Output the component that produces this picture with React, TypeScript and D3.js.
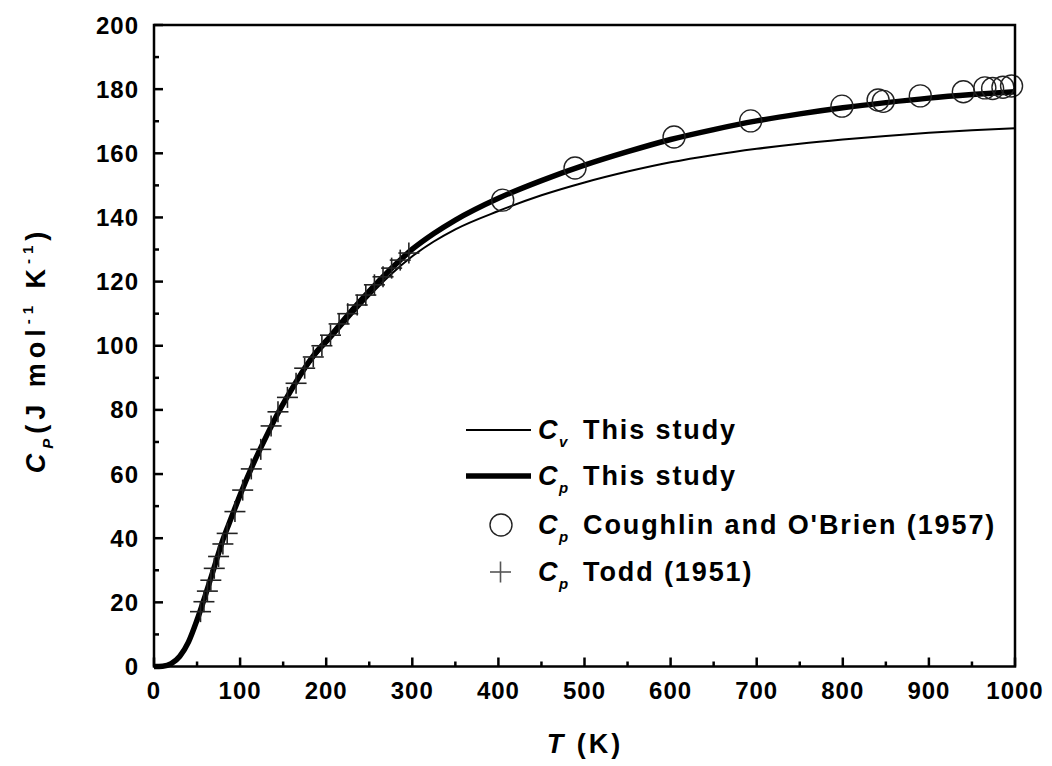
import React from "react";
import * as d3 from "d3";

const curveT = [0, 10, 20, 30, 40, 50, 60, 70, 80, 90, 100, 115, 130, 145, 160, 175, 190, 200, 225, 250, 275, 300, 325, 350, 400, 450, 500, 550, 600, 650, 700, 750, 800, 850, 900, 950, 1000];
const cpThis = [0, 0.1, 0.9, 3.2, 7.6, 14.5, 22.5, 31, 39.5, 46.5, 53.5, 63, 71.5, 79.5, 86.5, 93, 98.5, 101.5, 109.5, 117, 123.9, 130.1, 135, 139.2, 146, 151.5, 156.3, 160.5, 164.3, 167.4, 170.1, 172.3, 174.2, 175.8, 177.2, 178.3, 179.2];
const cvThis = [0, 0.1, 0.9, 3.2, 7.6, 14.5, 22.5, 31, 39.5, 46.5, 53.4, 62.8, 71.2, 79.1, 86, 92.3, 97.6, 100.5, 108.1, 115.5, 122.2, 127.9, 132.5, 136.3, 142, 146.9, 150.9, 154.3, 157.2, 159.5, 161.4, 163, 164.3, 165.4, 166.4, 167.2, 167.8];

const coughlinT = [405, 489, 604, 693, 799, 841, 847, 890, 940, 965, 974, 986, 996];
const coughlinCp = [145.4, 155.4, 165.1, 170.1, 174.7, 176.6, 176.2, 177.9, 179.2, 180.4, 180.2, 180.6, 181.0];

const toddT = [54, 58, 62, 66, 70, 75, 80, 85, 94, 103, 113, 124, 136, 144, 155, 165, 175, 185, 195, 205, 215, 225, 236, 246, 256, 266, 276, 286, 296];
const toddCp = [17.1, 20.2, 23.5, 26.9, 30.6, 34.3, 38.2, 41.5, 48.3, 55.0, 61.6, 67.7, 75.0, 79.4, 83.9, 88.3, 93.0, 96.5, 100.0, 103.3, 106.8, 110.0, 112.7, 115.8, 119.0, 121.5, 124.2, 126.7, 128.9];

const xTicks = [0, 100, 200, 300, 400, 500, 600, 700, 800, 900, 1000];
const yTicks = [0, 20, 40, 60, 80, 100, 120, 140, 160, 180, 200];

const legendSubs = ["v", "p", "p", "p"];
const legendTexts = ["This study", "This study", "Coughlin and O'Brien (1957)", "Todd (1951)"];

const FONT = "'Liberation Sans', Arial, sans-serif";

export default function App() {
  const W = 1052, H = 766;
  const x = d3.scaleLinear().domain([0, 1000]).range([154, 1015]);
  const y = d3.scaleLinear().domain([0, 200]).range([666.5, 25]);

  const line = d3.line<number>()
    .x((_, i) => x(curveT[i]))
    .y((d) => y(d))
    .curve(d3.curveMonotoneX);

  const xMinor = d3.range(50, 1000, 100);
  const yMinor = d3.range(10, 200, 20);
  const tickFont = { fontFamily: FONT, fontWeight: 700, fontSize: 24, letterSpacing: 1 } as const;
  const legFont = { fontFamily: FONT, fontWeight: 700, fontSize: 27, letterSpacing: 1.9 } as const;
  const rowY = [430, 476, 525, 572];

  return (
    <svg width={W} height={H} style={{ position: "absolute", left: 0, top: 0, background: "#fff" }}>
      <rect x={0} y={0} width={W} height={H} fill="#fff" />
      <path d={line(cvThis) || ""} fill="none" stroke="#000" strokeWidth={2} />
      <path d={line(cpThis) || ""} fill="none" stroke="#000" strokeWidth={5.5} />
      {toddT.map((t, i) => (
        <g key={"t" + i} stroke="#222" strokeWidth={1.6}>
          <line x1={x(t) - 10.5} x2={x(t) + 10.5} y1={y(toddCp[i])} y2={y(toddCp[i])} />
          <line x1={x(t)} x2={x(t)} y1={y(toddCp[i]) - 10.5} y2={y(toddCp[i]) + 10.5} />
        </g>
      ))}
      {coughlinT.map((t, i) => (
        <circle key={"c" + i} cx={x(t)} cy={y(coughlinCp[i])} r={11} fill="none" stroke="#222" strokeWidth={1.4} />
      ))}
      <rect x={x(0)} y={y(200)} width={x(1000) - x(0)} height={y(0) - y(200)} fill="none" stroke="#000" strokeWidth={2.5} />
      {xTicks.map((t) => (
        <line key={"xt" + t} x1={x(t)} x2={x(t)} y1={y(0)} y2={y(0) - 9} stroke="#000" strokeWidth={2.5} />
      ))}
      {xMinor.map((t) => (
        <line key={"xm" + t} x1={x(t)} x2={x(t)} y1={y(0)} y2={y(0) - 5} stroke="#000" strokeWidth={2.5} />
      ))}
      {yTicks.map((t) => (
        <line key={"yt" + t} x1={x(0)} x2={x(0) + 9} y1={y(t)} y2={y(t)} stroke="#000" strokeWidth={2.5} />
      ))}
      {yMinor.map((t) => (
        <line key={"ym" + t} x1={x(0)} x2={x(0) + 5} y1={y(t)} y2={y(t)} stroke="#000" strokeWidth={2.5} />
      ))}
      {xTicks.map((t) => (
        <text key={"xl" + t} x={x(t)} y={699} textAnchor="middle" style={tickFont}>{t}</text>
      ))}
      {yTicks.map((t) => (
        <text key={"yl" + t} x={139} y={y(t) + 8.5} textAnchor="end" style={tickFont}>{t}</text>
      ))}
      <text x={585} y={753} textAnchor="middle" style={{ fontFamily: FONT, fontWeight: 700, fontSize: 27, letterSpacing: 3 }}>
        <tspan fontStyle="italic">T</tspan> (K)
      </text>
      <text transform={`translate(45,${350}) rotate(-90)`} textAnchor="middle" style={{ fontFamily: FONT, fontWeight: 700, fontSize: 27, letterSpacing: 5 }}>
        <tspan fontStyle="italic">C</tspan>
        <tspan fontStyle="italic" fontSize={15} dy={8}>P</tspan>
        <tspan dy={-8}>(J mol</tspan>
        <tspan fontSize={15} dy={-12}>-1</tspan>
        <tspan dy={12}> K</tspan>
        <tspan fontSize={15} dy={-12}>-1</tspan>
        <tspan dy={12}>)</tspan>
      </text>
      <line x1={466} x2={531} y1={rowY[0]} y2={rowY[0]} stroke="#000" strokeWidth={2} />
      <line x1={466} x2={531} y1={rowY[1]} y2={rowY[1]} stroke="#000" strokeWidth={5.5} />
      <circle cx={501} cy={rowY[2]} r={11} fill="none" stroke="#222" strokeWidth={1.4} />
      <g stroke="#555" strokeWidth={1.6}>
        <line x1={490} x2={511} y1={rowY[3]} y2={rowY[3]} />
        <line x1={500.5} x2={500.5} y1={rowY[3] - 10.5} y2={rowY[3] + 10.5} />
      </g>
      {legendTexts.map((txt, i) => (
        <text key={"lg" + i} y={rowY[i] + 9} style={legFont}>
          <tspan x={538} fontStyle="italic">C</tspan>
          <tspan x={559} fontStyle="italic" fontSize={15} dy={8}>{legendSubs[i]}</tspan>
          <tspan x={583} dy={-8}>{txt}</tspan>
        </text>
      ))}
    </svg>
  );
}
